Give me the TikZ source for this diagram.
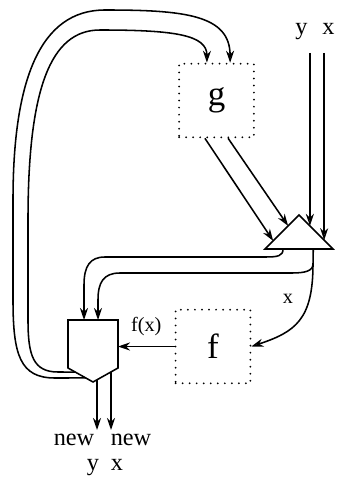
\documentclass[tikz,border=0pt]{standalone}
\usepackage{fontspec}
\setmainfont{Liberation Serif}
\usetikzlibrary{arrows.meta,calc}
\tikzset{
  >={Stealth[open,length=3mm,width=2mm]},
  wire/.style={line width=1.1pt},
  flow/.style={->,line width=1.1pt},
  fnbox/.style={draw,line width=1.4pt,dash pattern=on 0pt off 5pt,line cap=round,
    minimum width=18.7mm,minimum height=18.4mm,inner sep=0pt,font=\Huge},
  wirelbl/.style={font=\Large,inner sep=0pt},
  outlbl/.style={font=\LARGE,inner sep=0pt},
}
\begin{document}
\begin{tikzpicture}[x=0.025cm,y=-0.025cm]
  \useasboundingbox (0,0) rectangle (337,478);
  % function boxes
  \node[fnbox] (g) at (216.5,100.5) {g};
  \node[fnbox] (f) at (213,346.5) {f};
  % compare triangle and selector
  \coordinate (tl) at (265,249);
  \coordinate (tr) at (333,249);
  \coordinate (tp) at (299,215);
  \draw[wire] (tl) -- (tp) -- (tr) -- cycle;
  \coordinate (m1) at (68,320);
  \coordinate (m2) at (118,320);
  \coordinate (m3) at (118,368);
  \coordinate (m4) at (93,382);
  \coordinate (m5) at (68,368);
  \draw[wire] (m1) -- (m2) -- (m3) -- (m4) -- (m5) -- cycle;
  % ports on the shapes
  \path (tl) -- (tp) coordinate[pos=.24] (ga) coordinate[pos=.68] (gb);
  \path (tp) -- (tr) coordinate[pos=.32] (ty) coordinate[pos=.74] (tx);
  \path (tl) -- (tr) coordinate[pos=.265] (ba) coordinate[pos=.71] (bb);
  \path (m1) -- (m2) coordinate[pos=.32] (ma) coordinate[pos=.6] (mb);
  \path (m5) -- (m4) coordinate[pos=.29] (la) coordinate[pos=.71] (lb);
  \path (m4) -- (m3) coordinate[pos=.16] (oa) coordinate[pos=.72] (ob);
  \coordinate (intop) at (0,53);
  \coordinate (outbot) at (0,430);
  \coordinate (split) at (313,264);
  % inputs
  \node[outlbl,anchor=base] (ylbl) at (301.5,35) {y};
  \node[outlbl,anchor=base] (xlbl) at (328.5,35) {x};
  \draw[flow] (ty |- intop) -- (ty);
  \draw[flow] (tx |- intop) -- (tx);
  \draw[flow] ([xshift=-2.9mm]g.south) -- (ga);
  \draw[flow] ([xshift=2.9mm]g.south) -- (gb);
  % triangle outputs
  \draw[flow] (ba) .. controls (283,256) and (278,257) .. (265,257) -- (105,257)
    .. controls (90,257) and (84,266) .. (84,285) -- (ma);
  \draw[flow] (bb) -- (split) .. controls (313,271) and (305,273) .. (292,273) -- (120,273)
    .. controls (103,273) and (98,283) .. (98,300) -- (mb);
  \draw[flow] (split) .. controls (313,320) and (295,332) .. (f.east);
  \node[wirelbl,anchor=base] (xarg) at (288,303) {x};
  \draw[flow] (f.west) -- (f.west -| m2) node[wirelbl,midway,above=7pt] (fx) {f(x)};
  % selector outputs
  \draw[flow] (oa) -- (oa |- outbot);
  \draw[flow] (ob) -- (ob |- outbot);
  \node[outlbl,anchor=base] (newy) at (74,445) {new};
  \node[outlbl,anchor=base] (newx) at (131,445) {new};
  \node[outlbl,anchor=base] (oy) at (93,470) {y};
  \node[outlbl,anchor=base] (ox) at (117,470) {x};
  % feedback loops into g
  \draw[flow] (lb) -- (55,378) .. controls (20,378) and (13,355) .. (13,300) -- (13,200)
    .. controls (13,80) and (40,10) .. (105,10)
    .. controls (185,10) and (230,15) .. ([xshift=3.4mm]g.north);
  \draw[flow] (la) -- (58,372) .. controls (33,372) and (28,355) .. (28,320) -- (28,220)
    .. controls (28,90) and (50,30) .. (100,30)
    .. controls (175,30) and (207,35) .. ([xshift=-2.4mm]g.north);
\end{tikzpicture}
\end{document}
